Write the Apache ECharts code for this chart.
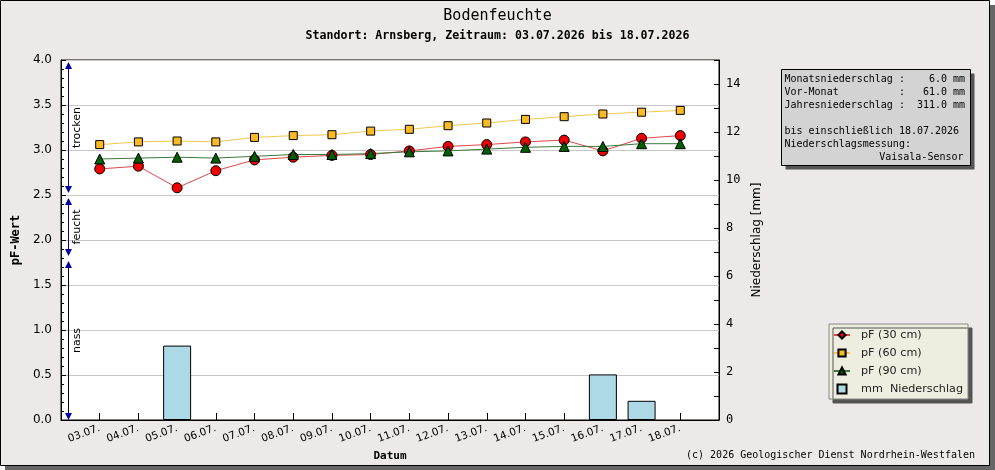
<!DOCTYPE html>
<html><head><meta charset="utf-8">
<script src="https://cdn.jsdelivr.net/npm/echarts@6/dist/echarts.min.js"></script>
<style>html,body{margin:0;padding:0;background:#fff}#c{width:995px;height:470px}</style>
</head><body><div id="c"></div>
<script>
const dates = ['03.07.','04.07.','05.07.','06.07.','07.07.','08.07.','09.07.','10.07.','11.07.','12.07.','13.07.','14.07.','15.07.','16.07.','17.07.','18.07.'];
const pf30 = [2.79,2.82,2.58,2.77,2.89,2.92,2.94,2.95,2.99,3.04,3.06,3.09,3.11,2.99,3.13,3.16];
const pf60 = [3.06,3.09,3.10,3.09,3.14,3.16,3.17,3.21,3.23,3.27,3.30,3.34,3.37,3.40,3.42,3.44];
const pf90 = [2.90,2.91,2.92,2.91,2.93,2.95,2.95,2.96,2.98,2.99,3.01,3.03,3.04,3.04,3.07,3.07];
const precip = [0,0,3.1,0,0,0,0,0,0,0,0,0,0,1.9,0.8,0];
const zones = [
  {label:'trocken', top:4.0, bottom:2.5, line:'#0000a0'},
  {label:'feucht', top:2.5, bottom:1.8, line:'#0000a0'},
  {label:'nass', top:1.8, bottom:0.0, line:'#000000'}
];
const infoLines = ['Monatsniederschlag :    6.0 mm','Vor-Monat          :   61.0 mm','Jahresniederschlag :  311.0 mm','','bis einschließlich 18.07.2026','Niederschlagsmessung:'];
const infoRight = 'Vaisala-Sensor';
const titleText = 'Bodenfeuchte';
const subTitleText = 'Standort: Arnsberg, Zeitraum: 03.07.2026 bis 18.07.2026';
const copyright = '(c) 2026 Geologischer Dienst Nordrhein-Westfalen';

const toPts = (arr, sym) => arr.map((v,i)=> sym ? {value:[i,v], symbol:sym} : [i,v]);
const mono = 'DejaVu Sans Mono';
const sans = 'DejaVu Sans';

const chart = echarts.init(document.getElementById('c'));
chart.setOption({
  animation:false,
  title:[
    {text:titleText,left:'center',top:4,textStyle:{fontFamily:mono,fontSize:15,fontWeight:'normal',color:'#000'}},
    {text:subTitleText,left:'center',top:25,textStyle:{fontFamily:mono,fontSize:11.6,fontWeight:'bold',color:'#000'}}
  ],
  grid:{left:61,right:276,top:60,bottom:50,show:true,backgroundColor:'#fff',borderColor:'#000',borderWidth:1},
  legend:{
    orient:'vertical',left:829,top:324,
    padding:[4,5,3,4],itemGap:4,itemWidth:16,itemHeight:9,
    backgroundColor:'#eeeee0',borderColor:'#888',borderWidth:1,
    shadowColor:'#555',shadowBlur:0,shadowOffsetX:4,shadowOffsetY:4,
    textStyle:{fontFamily:sans,fontSize:11.2,lineHeight:14,color:'#222',padding:[0,0,0,6]},
    data:[
      {name:'pF (30 cm)'},
      {name:'pF (60 cm)'},
      {name:'pF (90 cm)'},
      {name:'mm  Niederschlag',icon:'path://M0,0H10V10H0Z'}
    ]
  },
  xAxis:{
    type:'value',min:-1,max:dates.length,interval:1,
    name:'Datum',nameLocation:'middle',nameGap:30,
    nameTextStyle:{fontFamily:mono,fontSize:11,fontWeight:'bold',color:'#000'},
    axisLine:{onZero:false,lineStyle:{color:'#000'}},
    axisTick:{inside:true,length:7,lineStyle:{color:'#000'}},
    axisLabel:{rotate:20,margin:8,fontFamily:sans,fontSize:10.5,color:'#000',
      formatter:v=>(v>=0&&v<dates.length)?dates[v]:''},
    splitLine:{show:false}
  },
  yAxis:[
    {type:'value',min:0,max:4,interval:0.5,position:'left',
     name:'pF-Wert',nameLocation:'middle',nameGap:39,nameRotate:90,
     nameTextStyle:{fontFamily:mono,fontSize:12,fontWeight:'bold',color:'#000'},
     axisLine:{show:true,onZero:false,lineStyle:{color:'#000'}},
     axisTick:{show:true,inside:true,length:5,lineStyle:{color:'#000'}},
     minorTick:{show:true,splitNumber:5,length:3,lineStyle:{color:'#000'}},
     axisLabel:{margin:9,fontFamily:sans,fontSize:12,color:'#000',formatter:v=>v.toFixed(1)},
     splitLine:{show:true,lineStyle:{color:'#c8c8c8',width:1}}},
    {type:'value',min:0,max:15,interval:1,position:'right',
     name:'Niederschlag [mm]',nameLocation:'middle',nameGap:31,nameRotate:90,
     nameTextStyle:{fontFamily:sans,fontSize:12,color:'#000'},
     axisLine:{show:true,onZero:false,lineStyle:{color:'#000'}},
     axisTick:{show:true,inside:true,length:5,lineStyle:{color:'#000'}},
     axisLabel:{margin:7,fontFamily:mono,fontSize:12,color:'#000',formatter:v=>(v%2===0)?String(v):''},
     splitLine:{show:false}}
  ],
  series:[
    {name:'mm  Niederschlag',type:'bar',xAxisIndex:0,yAxisIndex:1,barWidth:28,
     data:toPts(precip).filter(p=>p[1]>0),itemStyle:{color:'#add8e6',borderColor:'#000',borderWidth:1}},
    {name:'pF (30 cm)',type:'line',yAxisIndex:0,data:toPts(pf30,'circle'),symbol:'diamond',symbolSize:10,
     lineStyle:{color:'#e04848',width:1},itemStyle:{color:'#ee0000',borderColor:'#000',borderWidth:1}},
    {name:'pF (60 cm)',type:'line',yAxisIndex:0,data:toPts(pf60),symbol:'rect',symbolSize:8,
     lineStyle:{color:'#f0c850',width:1},itemStyle:{color:'#fbb924',borderColor:'#000',borderWidth:1}},
    {name:'pF (90 cm)',type:'line',yAxisIndex:0,data:toPts(pf90),symbol:'triangle',symbolSize:10,
     lineStyle:{color:'#3a7a3a',width:1},itemStyle:{color:'#006000',borderColor:'#000',borderWidth:1}}
  ]
});

// annotations (frame, zone arrows, info box, copyright)
const g = [];
g.push({type:'rect',z:-20,shape:{x:5,y:5,width:990,height:465},style:{fill:'#666'}});
g.push({type:'rect',z:-10,shape:{x:0.5,y:0.5,width:989,height:465},style:{fill:'#ece9e8',stroke:'#000',lineWidth:1}});
const x0 = chart.convertToPixel({xAxisIndex:0},-1);
const lx = Math.round(x0)+7.5;
zones.forEach((zn,k)=>{
  const yt = chart.convertToPixel({yAxisIndex:0},zn.top) + (k===0?2:3);
  const yb = chart.convertToPixel({yAxisIndex:0},zn.bottom) - (k===2?0:2);
  g.push({type:'line',z:5,shape:{x1:lx,y1:yt+5,x2:lx,y2:yb-5},style:{stroke:zn.line,lineWidth:1}});
  g.push({type:'polygon',z:6,shape:{points:[[lx,yt],[lx-3.5,yt+7],[lx+3.5,yt+7]]},style:{fill:'#0000a0'}});
  g.push({type:'polygon',z:6,shape:{points:[[lx,yb],[lx-3.5,yb-7],[lx+3.5,yb-7]]},style:{fill:'#0000a0'}});
  g.push({type:'text',z:6,x:lx+9,y:(yt+yb)/2,rotation:Math.PI/2,
    style:{text:zn.label,fontFamily:sans,fontSize:11,fill:'#000',align:'center',verticalAlign:'middle'}});
});
// info box
const bx=781.5, by=69.5, bw=189, bh=96;
g.push({type:'rect',z:5,shape:{x:bx+4,y:by+4,width:bw,height:bh},style:{fill:'#555'}});
g.push({type:'rect',z:6,shape:{x:bx,y:by,width:bw,height:bh},style:{fill:'#d3d3d3',stroke:'#000',lineWidth:1}});
infoLines.forEach((t,i)=>{
  if(t) g.push({type:'text',z:7,x:bx+3,y:by+10+13*i,style:{text:t,fontFamily:mono,fontSize:10,fill:'#000',align:'left',verticalAlign:'middle'}});
});
g.push({type:'text',z:7,x:bx+bw-7,y:by+10+13*6,style:{text:infoRight,fontFamily:mono,fontSize:10,fill:'#000',align:'right',verticalAlign:'middle'}});
g.push({type:'text',z:7,x:975,y:455,style:{text:copyright,fontFamily:mono,fontSize:10,fill:'#000',align:'right',verticalAlign:'middle'}});
chart.setOption({graphic:g});
</script>
</body></html>
